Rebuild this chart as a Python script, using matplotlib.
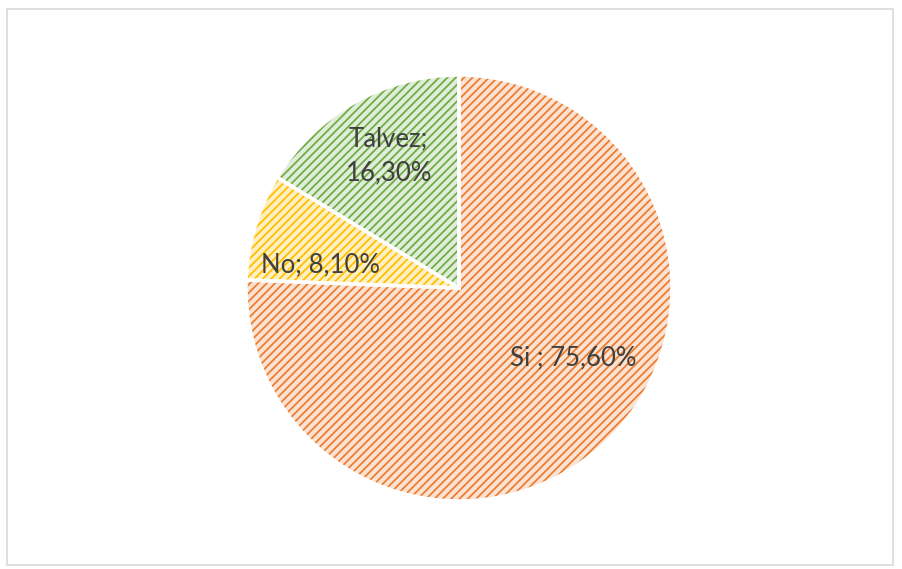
import matplotlib
matplotlib.use("Agg")
import matplotlib.pyplot as plt
from matplotlib.patches import Rectangle

categories = ["Si", "No", "Talvez"]
values = [75.6, 8.1, 16.3]
labels = ["Si ; 75,60%", "No; 8,10%", "Talvez;\n16,30%"]
hatch_colors = ["#ED7D31", "#FFC000", "#70AD47"]
face_colors = ["#FBE3D3", "#FFF0C4", "#E0EDD8"]

W, H = 902, 569
fig = plt.figure(figsize=(W / 100, H / 100), dpi=100)
fig.patch.set_facecolor("white")

cx, cy, r = 459, 288, 213
ax = fig.add_axes([(cx - r) / W, (H - cy - r) / H, 2 * r / W, 2 * r / H])

plt.rcParams["hatch.linewidth"] = 1.3

wedges, _ = ax.pie(values, startangle=90, counterclock=False, radius=1,
                   colors=face_colors,
                   wedgeprops=dict(linewidth=0, edgecolor="none"))
for w, hc in zip(wedges, hatch_colors):
    w.set_hatch("////")
    w.set_edgecolor(hc)
    w.set_linewidth(0)

# white separators
ax.pie(values, startangle=90, counterclock=False, radius=1,
       wedgeprops=dict(fill=False, linewidth=2.5, edgecolor="white"))

ax.set_xlim(-1, 1)
ax.set_ylim(-1, 1)
ax.set_aspect("equal")
ax.axis("off")

label_pos = [(0.535, -0.33), (-0.65, 0.11), (-0.33, 0.62)]
for (x, y), t in zip(label_pos, labels):
    ax.text(x, y, t, ha="center", va="center", fontsize=18.5,
            color="#404040", family="Lato", linespacing=1.45)

fig.add_artist(Rectangle((7 / W, (H - 565) / H), (893 - 7) / W, (565 - 9) / H,
                         transform=fig.transFigure, fill=False,
                         edgecolor="#D9D9D9", linewidth=1.2))

fig.savefig("out.png", dpi=100, facecolor="white")
